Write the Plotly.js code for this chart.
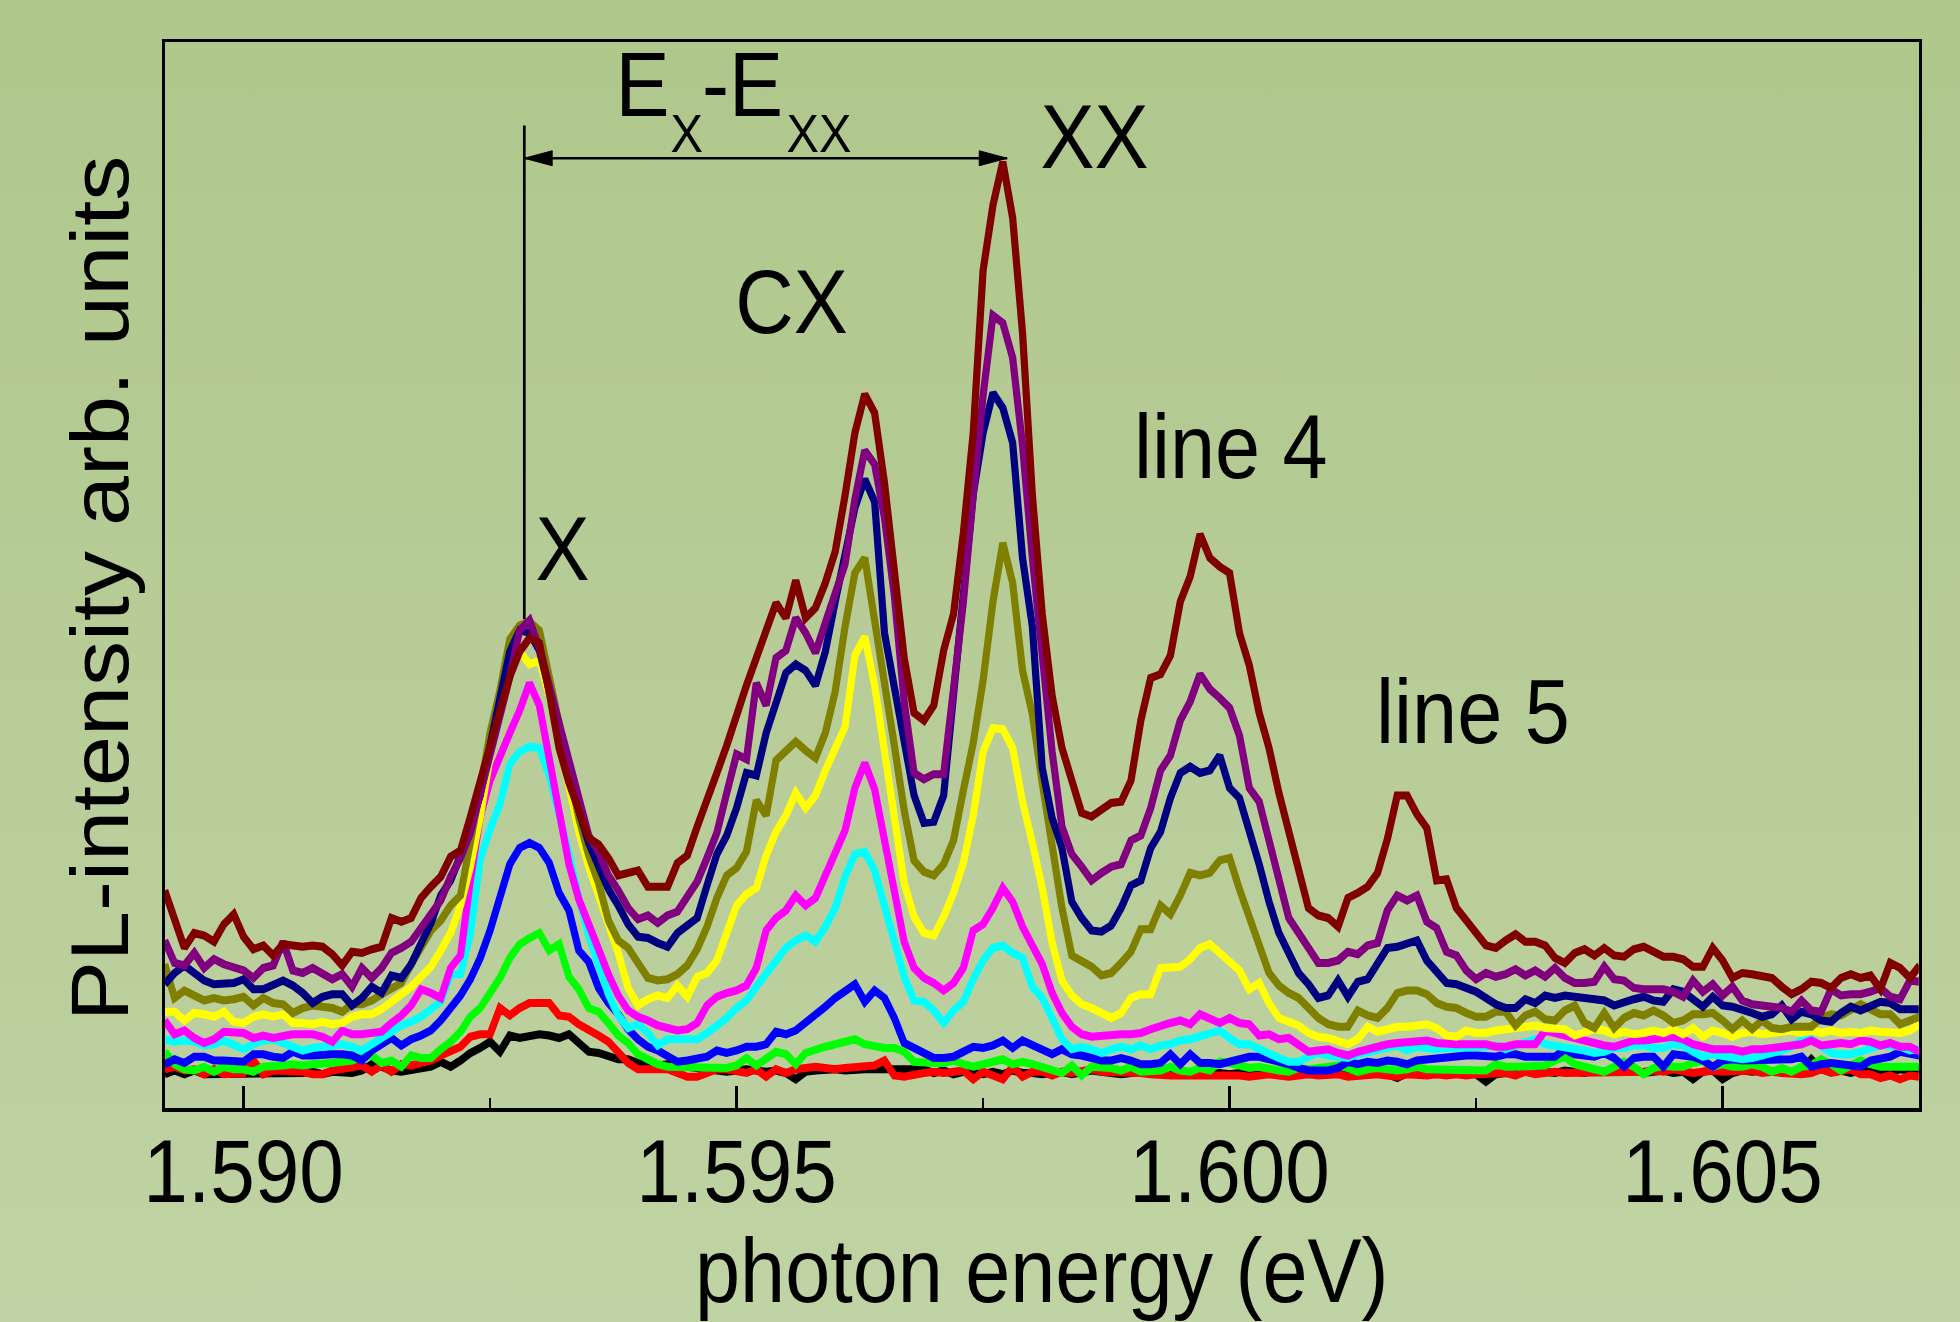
<!DOCTYPE html>
<html>
<head>
<meta charset="utf-8">
<script src="https://cdn.plot.ly/plotly-3.0.1.min.js"></script>
<style>
html,body{margin:0;padding:0;width:1960px;height:1322px;overflow:hidden;
  background:linear-gradient(to bottom,#afc78b 0%,#b7cc97 50%,#c0d3a4 100%);}
#chart{width:2178px;height:1322px;transform:scaleX(0.9);transform-origin:0 0;}
</style>
</head>
<body>
<div id="chart"></div>
<script>
// photon energy grid (eV)
const energy = [
1.5892,1.5893,1.5894,1.5895,1.5896,1.5897,1.5898,1.5899,
1.5900,1.5901,1.5902,1.5903,1.5904,1.5905,1.5906,1.5907,1.5908,1.5909,
1.5910,1.5911,1.5912,1.5913,1.5914,1.5915,1.5916,1.5917,1.5918,1.5919,
1.5920,1.5921,1.5922,1.5923,1.5924,1.5925,1.5926,1.5927,1.5928,1.5929,
1.5930,1.5931,1.5932,1.5933,1.5934,1.5935,1.5936,1.5937,1.5938,1.5939,
1.5940,1.5941,1.5942,1.5943,1.5944,1.5945,1.5946,1.5947,1.5948,1.5949,
1.5950,1.5951,1.5952,1.5953,1.5954,1.5955,1.5956,1.5957,1.5958,1.5959,
1.5960,1.5961,1.5962,1.5963,1.5964,1.5965,1.5966,1.5967,1.5968,1.5969,
1.5970,1.5971,1.5972,1.5973,1.5974,1.5975,1.5976,1.5977,1.5978,1.5979,
1.5980,1.5981,1.5982,1.5983,1.5984,1.5985,1.5986,1.5987,1.5988,1.5989,
1.5990,1.5991,1.5992,1.5993,1.5994,1.5995,1.5996,1.5997,1.5998,1.5999,
1.6000,1.6001,1.6002,1.6003,1.6004,1.6005,1.6006,1.6007,1.6008,1.6009,
1.6010,1.6011,1.6012,1.6013,1.6014,1.6015,1.6016,1.6017,1.6018,1.6019,
1.6020,1.6021,1.6022,1.6023,1.6024,1.6025,1.6026,1.6027,1.6028,1.6029,
1.6030,1.6031,1.6032,1.6033,1.6034,1.6035,1.6036,1.6037,1.6038,1.6039,
1.6040,1.6041,1.6042,1.6043,1.6044,1.6045,1.6046,1.6047,1.6048,1.6049,
1.6050,1.6051,1.6052,1.6053,1.6054,1.6055,1.6056,1.6057,1.6058,1.6059,
1.6060,1.6061,1.6062,1.6063,1.6064,1.6065,1.6066,1.6067,1.6068,1.6069,1.6070];

// PL intensity (arb. units), one spectrum per excitation power
const black = [
27,30,27,30,27,27,27,27,
27,27,28,27,27,27,28,29,27,29,
29,28,30,35,33,30,29,30,31,33,
37,33,38,44,48,53,45,58,56,58,
59,58,56,59,52,45,44,41,39,39,
36,35,34,35,34,33,31,30,29,29,
30,31,30,29,30,28,23,29,30,31,
31,30,31,31,31,31,31,30,31,31,
28,30,27,29,28,27,29,27,30,28,
28,27,28,29,27,28,30,29,28,27,
28,29,28,27,29,27,28,29,27,28,
27,28,29,27,28,27,29,28,27,28,
29,28,27,29,28,28,27,24,28,29,
28,27,28,29,28,27,21,27,28,29,
29,30,29,28,30,29,28,30,29,30,
29,30,28,29,30,28,29,23,29,30,
23,28,30,29,30,29,30,28,30,39,
31,29,30,28,30,29,30,29,31,30,31];

const red = [
31,33,30,31,27,31,27,27,
28,38,27,30,30,30,29,27,27,30,
31,33,34,29,34,29,35,34,36,38,
42,46,49,57,59,59,80,74,80,84,
84,84,74,73,67,63,58,53,45,36,
31,31,31,31,28,25,25,28,31,31,
30,28,31,25,31,28,31,32,33,32,
31,32,33,33,34,38,26,25,27,28,
29,28,29,30,23,29,26,23,33,25,
29,29,26,29,28,29,31,29,29,29,
28,28,27,26,26,26,26,27,27,26,
27,26,25,26,27,26,25,26,27,26,
26,27,25,26,26,27,26,25,27,26,
26,27,26,27,26,27,27,28,28,26,
29,27,28,29,28,28,29,28,29,29,
29,28,29,30,29,31,29,28,29,30,
29,29,29,30,28,29,28,27,27,28,
31,28,29,31,27,27,24,26,23,26,25];

const green = [
45,35,31,30,33,29,33,31,
31,29,33,33,34,35,34,35,35,36,
37,38,41,42,36,38,33,42,40,40,
47,53,61,73,80,92,104,120,131,136,
140,126,131,105,95,80,77,68,58,52,
43,39,35,33,33,33,32,32,33,32,
34,40,34,39,45,43,35,44,47,49,
51,53,55,51,49,48,48,45,37,36,
36,36,38,35,33,35,37,39,35,37,
35,33,31,28,34,26,33,33,32,30,
33,29,29,30,33,30,29,32,30,37,
36,34,32,33,31,30,29,32,31,32,
32,34,32,29,31,32,31,30,31,33,
31,31,30,31,30,31,30,35,33,33,
33,33,34,38,41,35,33,30,29,33,
37,33,27,32,34,33,33,36,38,33,
35,33,33,35,33,29,32,29,33,34,
39,35,30,34,38,35,33,33,33,33,33];

const blue = [
35,39,36,41,41,38,38,38,
37,43,43,41,40,45,42,42,43,43,
43,42,38,46,51,56,50,55,58,62,
70,80,90,103,120,142,168,195,208,212,
208,196,172,158,126,117,96,84,75,63,
55,49,46,42,37,38,39,41,46,44,
46,49,49,51,61,59,62,68,74,81,
88,93,99,85,94,88,72,52,48,43,
40,40,41,45,49,48,50,54,48,54,
50,46,43,47,43,42,40,38,38,40,
38,35,35,36,43,35,43,36,36,35,
37,39,41,41,39,38,35,32,30,30,
30,32,37,35,37,36,38,37,35,38,
39,39,40,41,42,42,42,41,43,43,
41,41,41,41,47,43,42,41,44,40,
33,40,41,41,33,43,42,41,38,33,
38,39,38,38,39,39,39,39,41,33,
35,36,35,34,33,38,39,41,45,43,42];

const cyan = [
55,53,54,53,50,51,54,50,
47,51,54,55,52,48,46,48,49,50,
51,49,46,51,56,61,66,69,73,79,
85,107,107,139,199,223,243,275,285,289,
288,266,237,203,168,138,114,91,74,64,
67,60,50,55,55,55,55,60,66,72,
80,86,97,107,118,128,134,138,133,145,
160,185,203,205,190,162,134,105,86,85,
78,68,78,85,103,118,128,130,124,120,
97,88,72,55,47,49,47,44,47,49,
47,50,47,50,51,54,55,57,60,62,
56,51,51,47,43,40,37,37,41,44,
42,41,40,43,45,47,49,50,46,49,
48,47,48,48,49,49,49,50,47,50,
53,55,51,50,48,47,46,44,45,48,
48,50,50,48,48,51,50,45,41,43,
42,41,39,40,42,43,46,49,54,55,
50,44,43,43,45,47,50,50,49,46,47];

const magenta = [
70,59,62,56,52,55,61,61,
60,56,58,56,58,59,59,59,57,53,
62,59,59,60,61,68,74,82,95,92,
88,112,122,182,233,262,283,300,318,340,
322,278,235,195,167,145,127,107,90,78,
73,70,66,64,62,63,68,82,89,92,
94,98,112,142,152,158,170,162,168,186,
203,222,256,276,255,215,168,133,112,104,
100,94,100,112,142,147,160,176,165,145,
130,115,92,76,65,59,57,58,59,59,
59,60,63,66,68,70,67,75,72,68,
72,68,67,58,59,55,56,50,45,46,
47,44,42,45,47,50,51,52,53,54,
54,52,51,51,51,51,51,49,49,51,
51,51,62,60,58,55,53,51,50,49,
51,54,54,55,55,57,55,51,49,47,
47,47,45,47,47,48,48,49,51,54,
50,51,52,51,54,53,50,52,49,49,45];

const yellow = [
77,77,70,76,75,73,77,69,
68,73,75,73,75,68,68,67,69,67,
68,73,75,75,79,86,91,97,104,113,
126,140,162,193,233,278,328,352,365,355,
358,330,294,258,221,193,170,146,124,96,
82,87,90,88,98,89,105,108,118,140,
162,171,176,202,221,234,252,240,250,270,
286,305,362,377,338,285,230,180,153,140,
138,153,172,196,234,285,304,303,288,245,
212,176,132,102,90,83,80,76,72,76,
88,91,91,112,113,113,119,128,131,124,
116,110,95,100,84,72,69,66,60,57,
56,54,51,55,65,61,63,65,65,66,
67,64,58,57,62,60,60,62,63,64,
65,66,64,64,63,58,60,63,62,59,
61,59,60,62,60,63,59,64,57,62,
60,57,60,61,59,60,61,62,60,62,
60,62,60,61,60,62,61,61,60,62,67];

const olive = [
115,88,94,90,86,88,86,87,
89,82,88,84,83,76,80,82,81,80,
77,83,83,86,91,95,100,115,128,142,
150,162,170,210,255,300,334,375,386,389,
382,345,305,265,232,202,180,150,134,128,
115,104,102,103,107,114,127,145,168,186,
192,205,246,234,278,286,293,286,280,300,
333,385,428,440,392,342,290,238,198,189,
186,195,214,254,292,342,405,452,420,350,
315,260,210,160,122,117,113,106,108,116,
125,143,143,162,155,170,188,186,188,198,
200,175,152,128,108,98,92,88,80,72,
67,65,65,78,74,72,80,92,94,94,
91,84,81,80,76,73,73,77,77,66,
74,77,71,70,78,82,68,64,76,64,
72,76,74,78,74,68,70,75,75,76,
70,63,70,63,70,64,63,65,65,65,
72,75,74,78,83,79,75,75,67,70,73];

const navy = [
99,108,114,108,102,99,99,100,
103,95,95,98,102,98,92,84,89,91,
91,82,88,97,92,106,104,115,130,148,
170,182,202,225,250,290,330,365,382,380,
366,333,300,268,238,212,192,175,162,147,
137,136,132,129,140,146,152,178,203,218,
240,268,266,300,325,348,355,350,338,365,
405,440,480,503,485,380,335,292,250,228,
229,250,335,415,491,540,572,560,532,440,
385,272,232,208,165,152,142,141,146,160,
178,182,208,221,248,268,273,268,270,282,
256,248,222,195,165,140,124,108,99,88,
90,102,89,101,103,116,128,129,132,134,
118,110,100,99,96,93,88,83,80,80,
87,84,90,88,90,89,88,88,86,82,
85,87,89,86,85,95,93,86,81,89,
82,81,79,76,73,75,82,71,77,75,
70,69,76,81,78,82,85,84,79,79,79];

const purple = [
134,116,114,124,112,119,115,112,
110,104,112,114,133,110,108,112,108,103,
107,97,112,104,112,124,128,133,144,155,
166,185,200,220,250,282,314,345,382,390,
368,337,309,279,248,218,205,186,174,160,
151,154,148,154,157,170,181,200,220,252,
283,279,340,322,360,366,392,380,364,388,
410,435,487,526,515,472,410,325,268,263,
267,267,335,405,490,570,634,628,600,530,
440,360,285,225,203,193,182,188,193,195,
214,218,240,270,282,310,325,347,335,328,
320,298,256,245,213,180,152,140,128,116,
116,118,125,123,130,132,158,170,166,170,
149,144,125,122,110,103,108,105,107,111,
106,110,105,112,104,100,100,101,113,103,
102,96,95,95,95,93,89,102,93,99,
90,97,86,83,82,82,80,77,86,78,
77,95,90,91,91,93,96,89,87,102,101];

const maroon = [
174,150,128,140,138,133,147,155,
137,127,130,122,131,130,129,130,129,123,
114,125,124,127,129,152,149,152,168,177,
185,201,206,233,263,290,318,345,365,376,
372,332,288,260,238,216,211,200,186,188,
190,177,177,177,196,202,225,245,268,290,
315,338,360,384,404,392,422,392,400,420,
445,490,540,571,556,500,430,360,316,310,
322,366,395,460,540,670,722,757,712,620,
490,395,330,288,262,236,233,238,244,245,
262,310,344,347,362,405,425,459,440,433,
428,380,354,316,288,252,222,188,160,154,
152,145,168,172,177,188,215,250,250,235,
224,182,183,160,151,140,130,128,134,139,
133,133,130,120,116,124,127,122,128,122,
121,127,129,125,121,121,119,113,113,128,
118,104,108,107,106,104,97,91,95,101,
100,96,104,107,104,106,95,116,112,104,114];

const seriesNames = ['P1','P2','P3','P4','P5','P6','P7','P8','P9','P10','P11'];
const seriesColors = ['#000000','#ff0000','#00ff00','#0000ff','#00ffff','#ff00ff',
                      '#ffff00','#808000','#000080','#800080','#800000'];
const seriesData = [black, red, green, blue, cyan, magenta, yellow, olive, navy, purple, maroon];

const tickVals = [1.590, 1.595, 1.600, 1.605];
const tickText = ['1.590', '1.595', '1.600', '1.605'];
const minorTickVals = [1.5925, 1.5975, 1.6025];

const xTitle = 'photon energy (eV)';
const yTitle = 'PL-intensity arb. units';

// labels: [text, x (eV), y (arb.), font size]
const peakLabels = [
  ['X', 1.593233, 447, 90],
  ['CX', 1.595554, 645, 90],
  ['XX', 1.598626, 777, 90],
  ['line 4', 1.600015, 529, 90],
  ['line 5', 1.602467, 317, 90],
  // E_X - E_XX splitting label (main letters and subscripts)
  ['E', 1.594049, 818, 90],
  ['X', 1.594497, 780, 54],
  ['-E', 1.595062, 818, 90],
  ['XX', 1.595833, 780, 54]
];
const xLineE = 1.592847;   // X peak marker
const xxLineE = 1.597744;  // XX peak position
const arrowY = 759.7;

const FONT = '"Liberation Sans", Arial, Helvetica, sans-serif';
const FS = 90;

const traces = seriesData.map((ys, i) => ({
  x: energy, y: ys, name: seriesNames[i], type: 'scatter', mode: 'lines',
  line: {color: seriesColors[i], width: 8},
  hoverinfo: 'skip', showlegend: false
}));

const annotations = peakLabels.map(p => ({
  x: p[1], y: p[2], xref: 'x', yref: 'y', text: p[0], showarrow: false,
  xanchor: 'center', yanchor: 'middle',
  font: {family: FONT, size: p[3], color: '#000'}
}));
annotations.push({
  x: -0.0369, y: 0.4868, xref: 'paper', yref: 'paper', text: yTitle, textangle: -90,
  showarrow: false, xanchor: 'center', yanchor: 'middle',
  font: {family: FONT, size: FS, color: '#000'}
});

const headLen = 0.000283, headHalf = 6;
const shapes = [
  {type: 'line', xref: 'x', yref: 'y', x0: xLineE, x1: xLineE, y0: 391, y1: 786,
   line: {color: '#000', width: 3}},
  {type: 'line', xref: 'x', yref: 'y', x0: xLineE, x1: xxLineE, y0: arrowY, y1: arrowY,
   line: {color: '#000', width: 2.5}},
  {type: 'path', xref: 'x', yref: 'y',
   path: `M ${xLineE},${arrowY} L ${xLineE + headLen},${arrowY + headHalf} L ${xLineE + headLen},${arrowY - headHalf} Z`,
   fillcolor: '#000', line: {color: '#000', width: 1}},
  {type: 'path', xref: 'x', yref: 'y',
   path: `M ${xxLineE},${arrowY} L ${xxLineE - headLen},${arrowY + headHalf} L ${xxLineE - headLen},${arrowY - headHalf} Z`,
   fillcolor: '#000', line: {color: '#000', width: 1}}
];

const layout = {
  width: 2178, height: 1322,
  margin: {l: 183, r: 46, t: 42, b: 214, pad: 0},
  paper_bgcolor: 'rgba(0,0,0,0)', plot_bgcolor: 'rgba(0,0,0,0)',
  font: {family: FONT, size: FS, color: '#000'},
  showlegend: false,
  xaxis: {
    range: [1.5892, 1.60699], tickmode: 'array', tickvals: tickVals, ticktext: tickText,
    ticks: 'inside', ticklen: 22, tickwidth: 3.5, tickcolor: '#000',
    minor: {tickmode: 'array', tickvals: minorTickVals, ticks: 'inside', ticklen: 10,
            tickwidth: 3, tickcolor: '#000', showgrid: false},
    showgrid: false, zeroline: false, showline: true, linecolor: '#000', linewidth: 3.5,
    mirror: true, automargin: false, ticklabelstandoff: -16,
    tickfont: {family: FONT, size: 89, color: '#000'},
    title: {text: xTitle, font: {family: FONT, size: FS, color: '#000'}, standoff: 12}
  },
  yaxis: {
    range: [0, 852.7], showticklabels: false, ticks: '', showgrid: false, zeroline: false,
    showline: true, linecolor: '#000', linewidth: 3.5, mirror: true, automargin: false
  },
  shapes: shapes,
  annotations: annotations
};

Plotly.newPlot('chart', traces, layout, {staticPlot: true, displayModeBar: false});
</script>
</body>
</html>
